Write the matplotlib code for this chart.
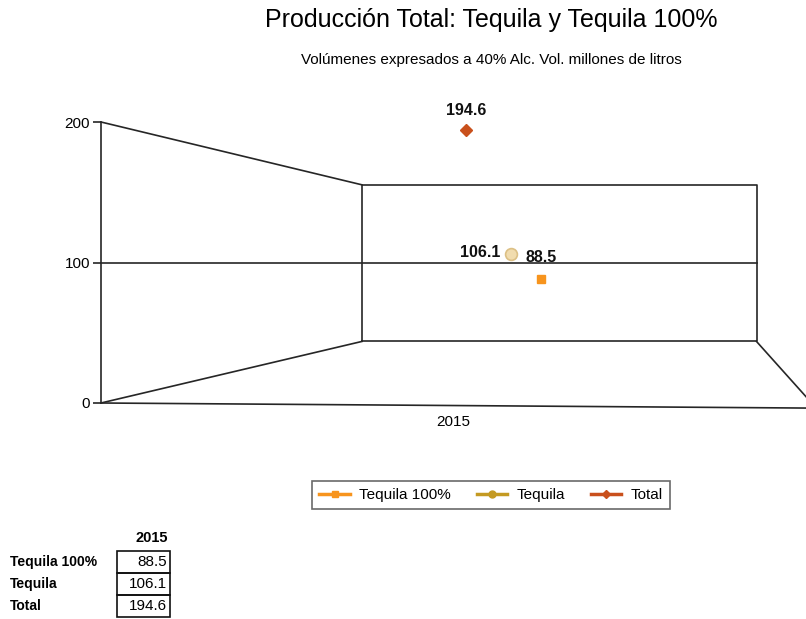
import matplotlib as mpl

mpl.use("Agg")
import matplotlib.pyplot as plt
from matplotlib.lines import Line2D
from matplotlib.patches import Rectangle

plt.rcParams["font.family"] = ["Liberation Sans", "DejaVu Sans"]

YEARS = ["2015"]
SERIES = ["Tequila 100%", "Tequila", "Total"]
TEQUILA_100 = [88.5]
TEQUILA = [106.1]
TOTAL = [194.6]
Y_TICKS = [0, 100, 200]

LINE = "#262626"
C_100 = "#f7941d"
C_TEQ = "#c49a22"
C_TOT = "#c9501c"

fig = plt.figure(figsize=(8.06, 6.19), dpi=100)
W, H = 806, 619


def fx(px):
    return px / W


def fy(py):
    return 1 - py / H


ax = fig.add_axes([fx(101), fy(403), fx(705), fy(122) - fy(403)])
ax.set_xlim(-1, 1)
ax.set_ylim(0, 200)
for s in ax.spines.values():
    s.set_visible(False)

# pseudo-3D frame: front axis, back wall and floor
xb0, xb1 = -0.26, 0.8596          # back wall left / right
yb0, yb1 = 43.8, 155.3             # back wall bottom / top
kw = dict(color=LINE, lw=1.2, clip_on=False, zorder=1)
ax.plot([-1, -1], [0, 200], **kw)
ax.plot([-1, xb0], [200, yb1], **kw)
ax.plot([-1, xb0], [0, yb0], **kw)
ax.plot([xb0, xb1, xb1, xb0, xb0], [yb0, yb0, yb1, yb1, yb0], **kw)
ax.plot([-1, 1.0], [0, -3.6], **kw)
ax.plot([xb1, 1.0], [yb0, 4.5], **kw)
ax.plot([-1, xb1], [100, 100], **kw)

ax.set_yticks(Y_TICKS)
ax.set_yticklabels([str(v) for v in Y_TICKS], fontsize=11)
ax.tick_params(axis="y", length=6, width=1.2, color=LINE, pad=2)
ax.set_xticks([0])
ax.set_xticklabels(YEARS, fontsize=11)
ax.tick_params(axis="x", length=0, pad=9)

# series marks, each offset in depth along the category
ax.plot([0.035], TOTAL, ls="none", marker="D", ms=6, color=C_TOT, zorder=3)
ax.plot([0.163], TEQUILA, ls="none", marker="o", ms=8.5, mfc="#f1dcae",
        mec="#dcc085", mew=1.2, zorder=3)
ax.plot([0.248], TEQUILA_100, ls="none", marker="s", ms=5.5, color=C_100, zorder=3)

lbl = dict(fontsize=11.5, fontweight="bold", color="#111111",
           textcoords="offset pixels", va="center")
ax.annotate(f"{TOTAL[0]:.1f}", (0.035, TOTAL[0]), xytext=(0, 19), ha="center", **lbl)
ax.annotate(f"{TEQUILA[0]:.1f}", (0.163, TEQUILA[0]), xytext=(-11, 1), ha="right", **lbl)
ax.annotate(f"{TEQUILA_100[0]:.1f}", (0.248, TEQUILA_100[0]), xytext=(0, 21), ha="center", **lbl)

fig.text(fx(491), fy(20), "Producción Total: Tequila y Tequila 100%",
         ha="center", va="center", fontsize=18)
fig.text(fx(491), fy(60), "Volúmenes expresados a 40% Alc. Vol. millones de litros",
         ha="center", va="center", fontsize=11)

handles = [
    Line2D([], [], color=C_100, lw=2.5, marker="s", ms=5),
    Line2D([], [], color=C_TEQ, lw=2.5, marker="o", ms=5),
    Line2D([], [], color=C_TOT, lw=2.5, marker="D", ms=4),
]
leg = fig.legend(handles, SERIES, loc="center", bbox_to_anchor=(fx(491), fy(495)),
                 ncol=3, fontsize=11, frameon=True, fancybox=False,
                 handlelength=2.0, columnspacing=1.7, handletextpad=0.6,
                 borderpad=0.45, borderaxespad=0)
leg.get_frame().set_edgecolor("#444444")
leg.get_frame().set_linewidth(1.2)

# data table below the chart
fig.text(fx(168), fy(538), YEARS[0], ha="right", va="center", fontsize=10.5, fontweight="bold")
row_y = [562, 584, 606]
for name, vals, py in zip(SERIES, [TEQUILA_100, TEQUILA, TOTAL], row_y):
    fig.text(fx(10), fy(py), name, ha="left", va="center", fontsize=10, fontweight="bold")
    fig.patches.append(Rectangle((fx(117), fy(py + 11)), fx(53), fy(py - 11) - fy(py + 11),
                                 transform=fig.transFigure, fill=False,
                                 edgecolor="#111111", lw=1.2))
    fig.text(fx(167), fy(py), f"{vals[0]:.1f}", ha="right", va="center", fontsize=11)

fig.savefig("out.png", dpi=100)
